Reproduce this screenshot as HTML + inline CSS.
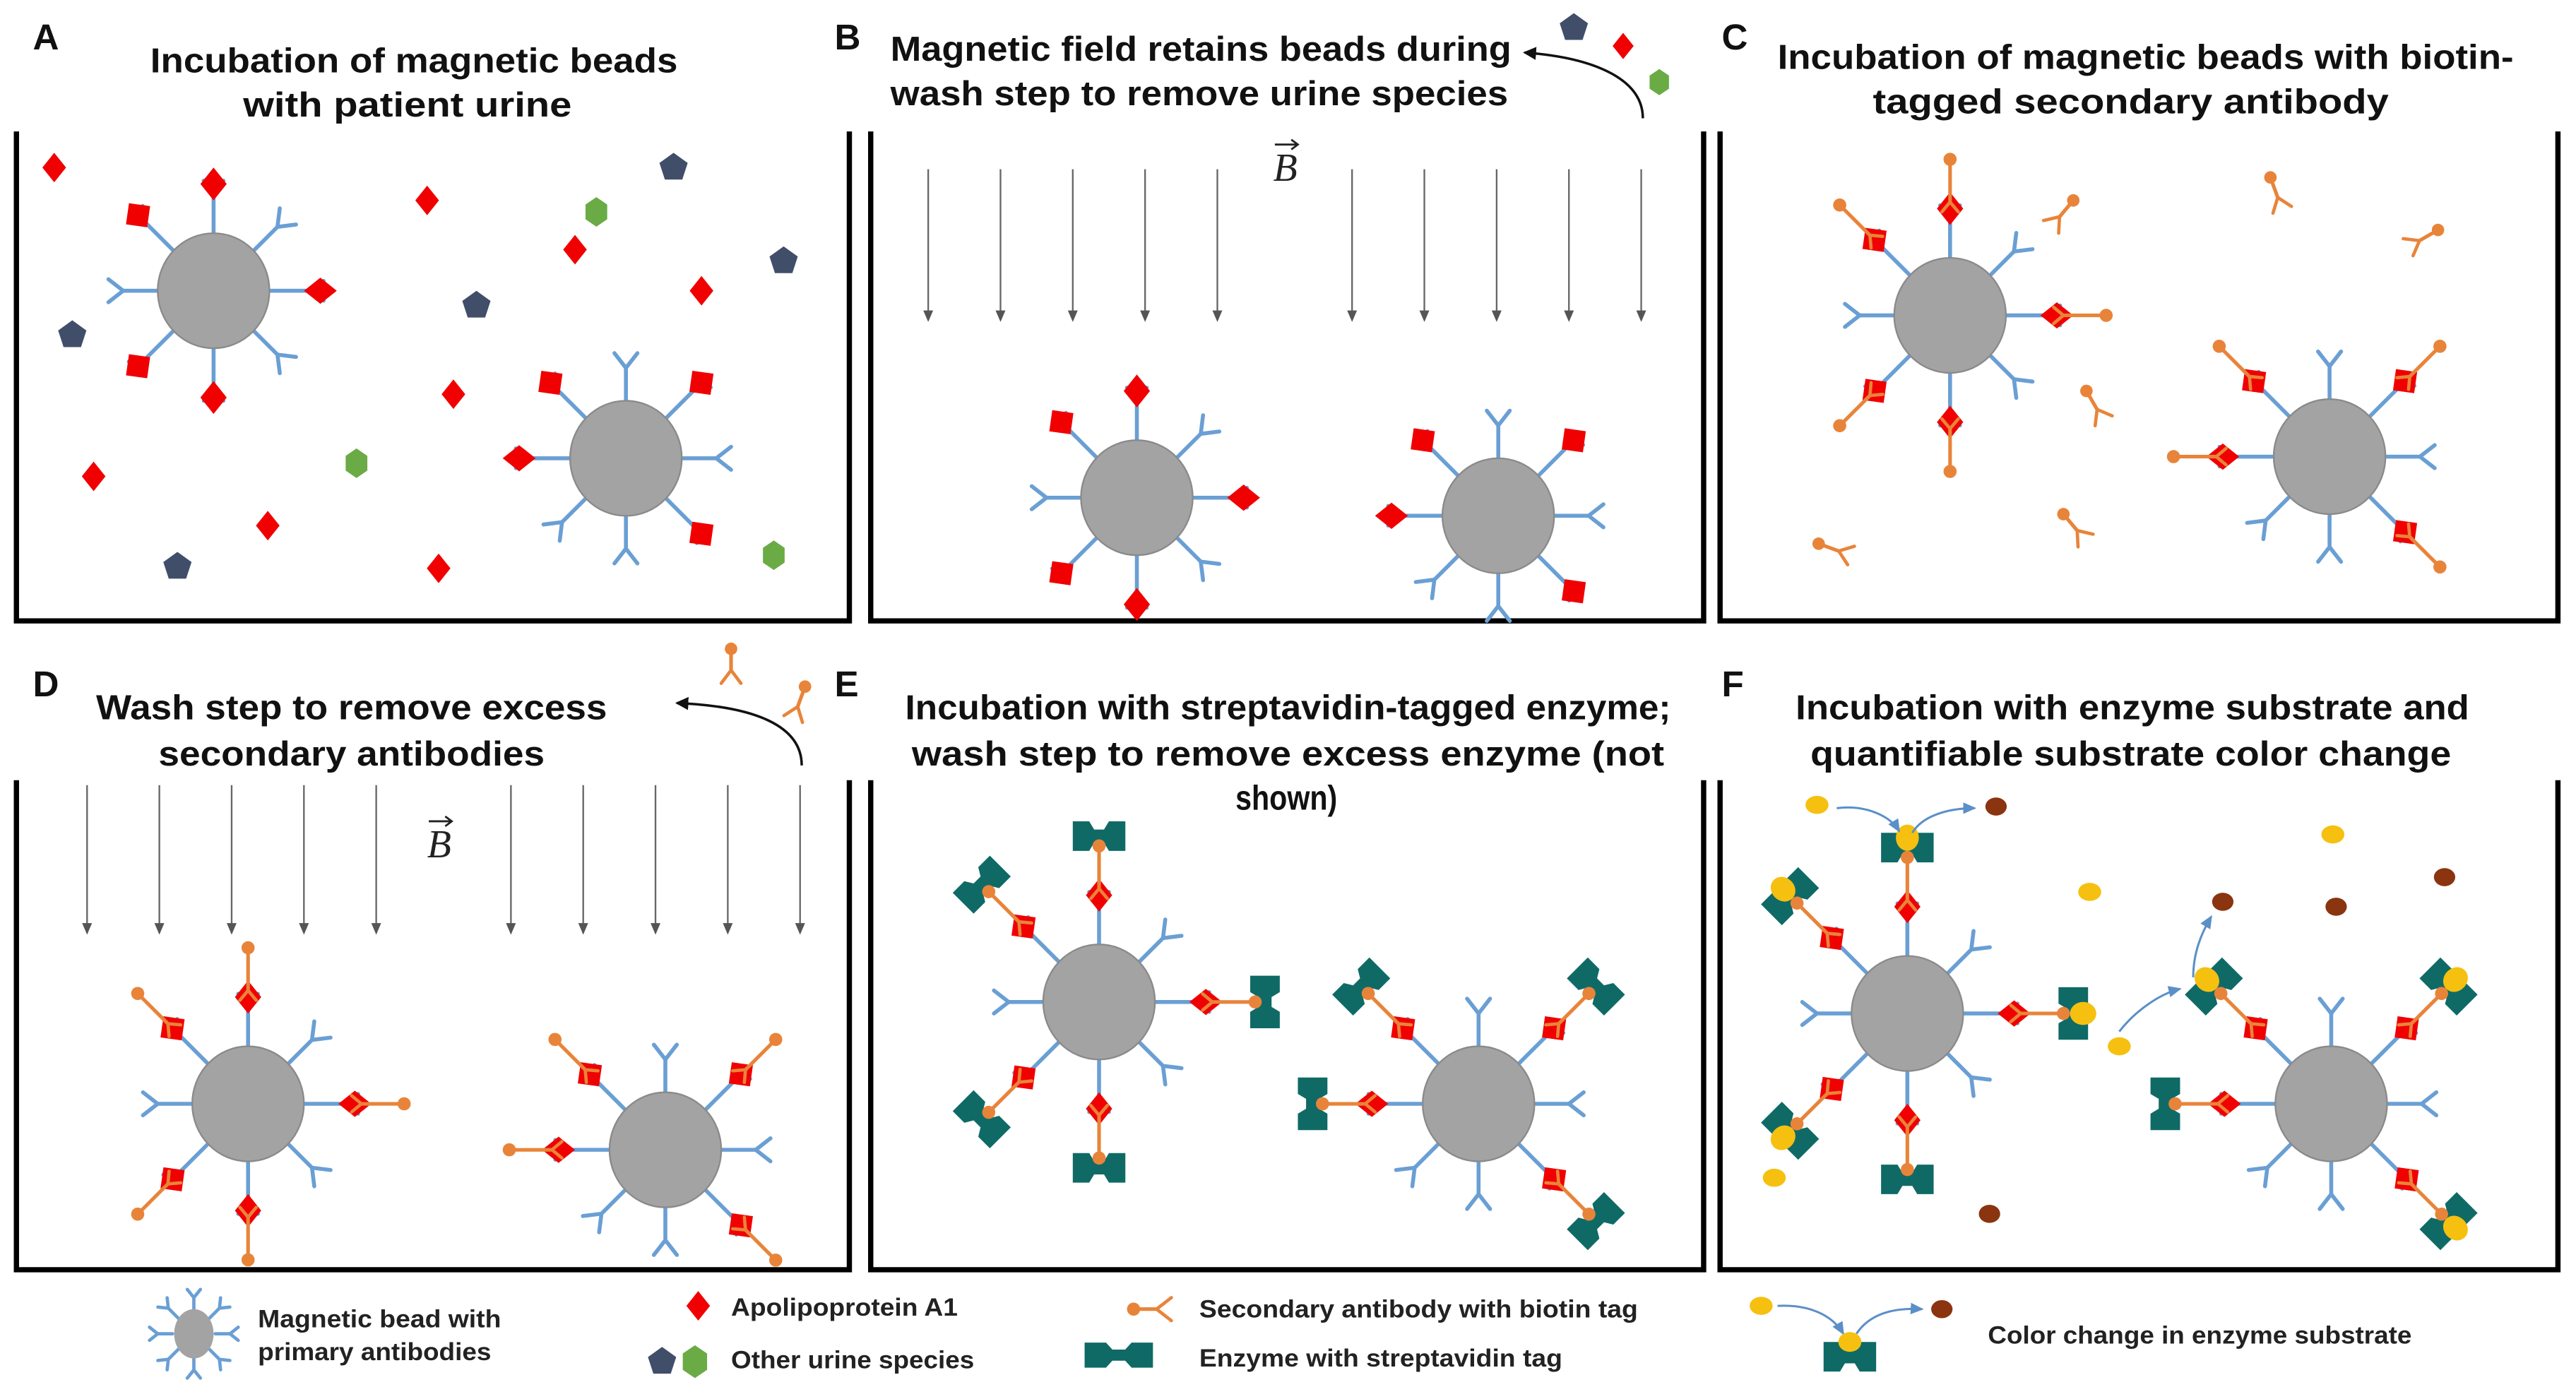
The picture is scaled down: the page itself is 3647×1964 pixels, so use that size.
<!DOCTYPE html>
<html><head><meta charset="utf-8"><style>
html,body{margin:0;padding:0;background:#fff;}
svg{display:block;}
.t{font-family:"Liberation Sans Narrow","Liberation Sans",sans-serif;font-weight:bold;fill:#111;font-size:21px;}
.l{font-family:"Liberation Sans Narrow","Liberation Sans",sans-serif;font-weight:bold;fill:#222;font-size:15px;}
.p{font-family:"Liberation Sans",sans-serif;font-weight:bold;fill:#111;font-size:22px;}
</style></head><body>
<svg id="s" width="3647" height="1964" viewBox="0 0 1568 844.4" xmlns="http://www.w3.org/2000/svg">
<rect width="1568" height="845" fill="#fff"/>
<defs>
<marker id="ah" markerWidth="8" markerHeight="8" refX="6" refY="4" orient="auto" markerUnits="userSpaceOnUse"><path d="M0,1 L7,4 L0,7 Z" fill="#555"/></marker>
<marker id="ak" markerWidth="10" markerHeight="10" refX="7" refY="5" orient="auto" markerUnits="userSpaceOnUse"><path d="M0,1 L8,5 L0,9 Z" fill="#111"/></marker>
<marker id="ab" markerWidth="10" markerHeight="10" refX="7" refY="5" orient="auto" markerUnits="userSpaceOnUse"><path d="M0,1.5 L8,5 L0,8.5 Z" fill="#5b8fc7"/></marker>
</defs>
<g fill="none" stroke="#000" stroke-width="3.2">
<path d="M10,80 V378 H517 V80"/>
<path d="M530,80 V378 H1037 V80"/>
<path d="M1047,80 V378 H1557 V80"/>
<path d="M10,475 V773 H517 V475"/>
<path d="M530,475 V773 H1037 V475"/>
<path d="M1047,475 V773 H1557 V475"/>
</g>
<text class="p" x="20" y="30">A</text>
<text class="p" x="508" y="30">B</text>
<text class="p" x="1048" y="30">C</text>
<text class="p" x="20" y="424">D</text>
<text class="p" x="508" y="424">E</text>
<text class="p" x="1048" y="424">F</text>
<g text-anchor="middle">
<text class="t" x="252" y="44" textLength="321" lengthAdjust="spacingAndGlyphs">Incubation of magnetic beads</text>
<text class="t" x="248" y="71" textLength="200" lengthAdjust="spacingAndGlyphs">with patient urine</text>
<text class="t" x="731" y="37" textLength="378" lengthAdjust="spacingAndGlyphs">Magnetic field retains beads during</text>
<text class="t" x="730" y="64" textLength="376" lengthAdjust="spacingAndGlyphs">wash step to remove urine species</text>
<text class="t" x="1306" y="42" textLength="448" lengthAdjust="spacingAndGlyphs">Incubation of magnetic beads with biotin-</text>
<text class="t" x="1297" y="69" textLength="314" lengthAdjust="spacingAndGlyphs">tagged secondary antibody</text>
<text class="t" x="214" y="438" textLength="311" lengthAdjust="spacingAndGlyphs">Wash step to remove excess</text>
<text class="t" x="214" y="466" textLength="235" lengthAdjust="spacingAndGlyphs">secondary antibodies</text>
<text class="t" x="784" y="438" textLength="466" lengthAdjust="spacingAndGlyphs">Incubation with streptavidin-tagged enzyme;</text>
<text class="t" x="784" y="466" textLength="458" lengthAdjust="spacingAndGlyphs">wash step to remove excess enzyme (not</text>
<text class="t" x="783" y="493" textLength="62" lengthAdjust="spacingAndGlyphs">shown)</text>
<text class="t" x="1298" y="438" textLength="410" lengthAdjust="spacingAndGlyphs">Incubation with enzyme substrate and</text>
<text class="t" x="1297" y="466" textLength="390" lengthAdjust="spacingAndGlyphs">quantifiable substrate color change</text>
</g>
<text x="775" y="110" font-family="Liberation Serif,serif" font-style="italic" font-size="24" fill="#222">B</text>
<path d="M776,88 H790 M786,85 L790,88 L786,91" stroke="#222" stroke-width="1.2" fill="none"/>
<text x="260" y="522" font-family="Liberation Serif,serif" font-style="italic" font-size="24" fill="#222">B</text>
<path d="M261,500 H275 M271,497 L275,500 L271,503" stroke="#222" stroke-width="1.2" fill="none"/>
<path d="M1000,72 C1000,48 970,35 928,32" stroke="#111" stroke-width="1.5" fill="none" marker-end="url(#ak)"/>
<path d="M488,466 C488,442 460,430 412,428" stroke="#111" stroke-width="1.5" fill="none" marker-end="url(#ak)"/>
<text class="l" x="157" y="808" textLength="148" lengthAdjust="spacingAndGlyphs">Magnetic bead with</text>
<text class="l" x="157" y="828" textLength="142" lengthAdjust="spacingAndGlyphs">primary antibodies</text>
<text class="l" x="445" y="801" textLength="138" lengthAdjust="spacingAndGlyphs">Apolipoprotein A1</text>
<text class="l" x="445" y="833" textLength="148" lengthAdjust="spacingAndGlyphs">Other urine species</text>
<text class="l" x="730" y="802" textLength="267" lengthAdjust="spacingAndGlyphs">Secondary antibody with biotin tag</text>
<text class="l" x="730" y="832" textLength="221" lengthAdjust="spacingAndGlyphs">Enzyme with streptavidin tag</text>
<text class="l" x="1210" y="818" textLength="258" lengthAdjust="spacingAndGlyphs">Color change in enzyme substrate</text>
<g id="g"></g>
</svg>
<script>
var BL='#6a9fd4',OR='#e8843a',RD='#f00000',TE='#0f6a66',PE='#404e6a',GR='#6aab45',YE='#f5c010',BR='#8a3410';
var o='';
function ln(x1,y1,x2,y2,c,w){return '<line x1="'+x1+'" y1="'+y1+'" x2="'+x2+'" y2="'+y2+'" stroke="'+c+'" stroke-width="'+(w||2.4)+'" stroke-linecap="round"/>';}
function dia(x,y,h){return '<path d="M'+x+','+(y-h)+' L'+(x+h*0.8)+','+y+' L'+x+','+(y+h)+' L'+(x-h*0.8)+','+y+' Z" fill="'+RD+'"/>';}
function sq(x,y,h,rot){return '<rect x="'+(x-h)+'" y="'+(y-h)+'" width="'+(2*h)+'" height="'+(2*h)+'" fill="'+RD+'" transform="rotate('+(rot||0)+' '+x+' '+y+')"/>';}
function enz(x,y){
 return '<path d="M'+(x-16)+','+(y-9)+' L'+(x-6)+','+(y-9)+' L'+(x-3)+','+(y-4)+' L'+(x+3)+','+(y-4)+' L'+(x+6)+','+(y-9)+' L'+(x+16)+','+(y-9)+' L'+(x+16)+','+(y+9)+' L'+(x+6)+','+(y+9)+' L'+(x+3)+','+(y+4)+' L'+(x-3)+','+(y+4)+' L'+(x-6)+','+(y+9)+' L'+(x-16)+','+(y+9)+' Z" fill="'+TE+'"/>';}
function yel(x,y,rx,ry){return '<ellipse cx="'+x+'" cy="'+y+'" rx="'+(rx||7)+'" ry="'+(ry||5.5)+'" fill="'+YE+'"/>';}
function brn(x,y){return '<ellipse cx="'+x+'" cy="'+y+'" rx="6.5" ry="5.5" fill="'+BR+'"/>';}
function pent(x,y,r){var p=[];for(var i=0;i<5;i++){var a=-Math.PI/2+i*2*Math.PI/5;p.push((x+r*Math.cos(a)).toFixed(1)+','+(y+r*Math.sin(a)).toFixed(1));}return '<polygon points="'+p.join(' ')+'" fill="'+PE+'"/>';}
function hex(x,y,r){var p=[];for(var i=0;i<6;i++){var a=-Math.PI/2+i*Math.PI/3;p.push((x+r*0.85*Math.cos(a)).toFixed(1)+','+(y+r*Math.sin(a)).toFixed(1));}return '<polygon points="'+p.join(' ')+'" fill="'+GR+'"/>';}
function arm(cx,cy,r,th,t){
 var g='<g transform="translate('+cx+','+cy+') rotate('+(th+90)+')">';
 if(t==='Y'){var L=r+21;g+=ln(0,-r,0,-L,BL)+ln(0,-L,-7,-L-9,BL)+ln(0,-L,7,-L-9,BL);}
 else{
  var a=r+31;
  g+=ln(0,-r,0,-(a-6),BL)+ln(0,-(a-6),-6,-(a+2),BL)+ln(0,-(a-6),6,-(a+2),BL);
  if(t.indexOf('S')===0)g+=sq(0,-a,6.5,-(th+90)+8);else g+=dia(0,-a,10);
  if(t.length>1){
   var d=a+30;
   g+=ln(0,-(a+4),0,-d,OR,2.2)+ln(0,-(a+4),-5,-(a-2),OR,2)+ln(0,-(a+4),5,-(a-2),OR,2);
   if(t.indexOf('E')>0){g+=enz(0,-(d+6));}
   g+='<circle cx="0" cy="'+(-d)+'" r="4" fill="'+OR+'"/>';
   if(t.indexOf('Y')>0){g+=yel(0,-(d+12),7,8);}
  }
 }
 return g+'</g>';
}
function bead(cx,cy,r,spec){
 var s='';for(var i=0;i<8;i++){s+=arm(cx,cy,r,-90+i*45,spec[i]);}
 s+='<ellipse cx="'+cx+'" cy="'+cy+'" rx="'+r+'" ry="'+(r*1.03)+'" fill="#a3a3a3" stroke="#8a8a8a" stroke-width="1"/>';
 o+=s;
}
function fab(x,y,rot){
 o+='<g transform="translate('+x+','+y+') rotate('+rot+')">'+ln(0,0,0,-13,OR,2.2)+ln(0,-13,-6,-21,OR,2)+ln(0,-13,6,-21,OR,2)+'<circle cx="0" cy="0" r="3.8" fill="'+OR+'"/></g>';
}
[565,609,653,697,741,823,867,911,955,999].forEach(function(x){o+='<line x1="'+x+'" y1="103" x2="'+x+'" y2="195" stroke="#666" stroke-width="1" marker-end="url(#ah)"/>';});
[53,97,141,185,229,311,355,399,443,487].forEach(function(x){o+='<line x1="'+x+'" y1="478" x2="'+x+'" y2="568" stroke="#666" stroke-width="1" marker-end="url(#ah)"/>';});
var P1=['D','Y','D','Y','D','S','Y','S'], P2=['Y','S','Y','S','Y','Y','D','S'];
bead(130,177,34,P1);bead(381,279,34,P2);
[[33,102],[260,122],[350,152],[427,177],[276,240],[57,290],[163,320],[267,346]].forEach(function(p){o+=dia(p[0],p[1],9);});
[[410,102],[44,204],[290,186],[477,159],[108,345]].forEach(function(p){o+=pent(p[0],p[1],9);});
[[363,129],[217,282],[471,338]].forEach(function(p){o+=hex(p[0],p[1],9);});
bead(692,303,34,P1);bead(912,314,34,P2);
o+=pent(958,17,9)+dia(988,28,8)+hex(1010,50,8);
var C1=['DS','Y','DS','Y','DS','SS','Y','SS'],C2=['Y','SS','Y','SS','Y','Y','DS','SS'];
bead(1187,192,34,C1);bead(1418,278,34,C2);
fab(1262,122,-140);fab(1382,108,160);fab(1484,140,-120);fab(1270,238,150);fab(1107,331,110);fab(1256,313,140);
bead(151,672,34,C1);bead(405,700,34,C2);
fab(445,395,180);fab(490,418,200);
var E1=['DE','Y','DE','Y','DE','SE','Y','SE'],E2=['Y','SE','Y','SE','Y','Y','DE','SE'];
bead(669,610,34,E1);bead(900,672,34,E2);
bead(1161,617,34,['DEY','Y','DEY','Y','DE','SEY','Y','SEY']);
bead(1419,672,34,['Y','SEY','Y','SEY','Y','Y','DE','SEY']);
[[1106,490],[1420,508],[1272,543],[1290,637],[1080,717]].forEach(function(p){o+=yel(p[0],p[1]);});
[[1215,491],[1353,549],[1422,552],[1488,534],[1211,739]].forEach(function(p){o+=brn(p[0],p[1]);});
o+='<path d="M1118,492 C1135,490 1150,496 1156,506" stroke="#5b8fc7" stroke-width="1.3" fill="none" marker-end="url(#ab)"/>';
o+='<path d="M1164,507 C1170,497 1185,492 1202,492" stroke="#5b8fc7" stroke-width="1.3" fill="none" marker-end="url(#ab)"/>';
o+='<path d="M1290,628 C1300,615 1315,605 1327,602" stroke="#5b8fc7" stroke-width="1.3" fill="none" marker-end="url(#ab)"/>';
o+='<path d="M1335,595 C1335,580 1340,568 1346,558" stroke="#5b8fc7" stroke-width="1.3" fill="none" marker-end="url(#ab)"/>';
(function(){var cx=118,cy=812,r=13,s='';for(var i=0;i<8;i++){var th=-90+i*45;s+='<g transform="translate('+cx+','+cy+') rotate('+(th+90)+')">'+ln(0,-r,0,-r-9,BL,2)+ln(0,-r-9,-4,-r-14,BL,2)+ln(0,-r-9,4,-r-14,BL,2)+'</g>';}
s+='<ellipse cx="'+cx+'" cy="'+cy+'" rx="'+(r-1)+'" ry="'+(r+2)+'" fill="#a3a3a3"/>';o+=s;})();
o+=dia(425,795,9)+pent(403,829,9)+hex(423,829,10);
o+='<g transform="translate(690,797) rotate(90)">'+ln(0,0,0,-14,OR,2.2)+ln(0,-14,-7,-23,OR,2)+ln(0,-14,7,-23,OR,2)+'<circle cx="0" cy="0" r="4" fill="'+OR+'"/></g>';
o+='<g transform="translate(681,825) scale(1.3,0.85)">'+enz(0,0)+'</g>';
o+=yel(1072,795)+brn(1182,797);
o+='<path d="M1082,795 C1100,794 1115,800 1122,812" stroke="#5b8fc7" stroke-width="1.3" fill="none" marker-end="url(#ab)"/>';
o+='<path d="M1130,812 C1138,800 1152,796 1170,797" stroke="#5b8fc7" stroke-width="1.3" fill="none" marker-end="url(#ab)"/>';
o+=enz(1126,826)+yel(1126,817,7,6);
document.getElementById('g').innerHTML=o;
</script>
</body></html>
